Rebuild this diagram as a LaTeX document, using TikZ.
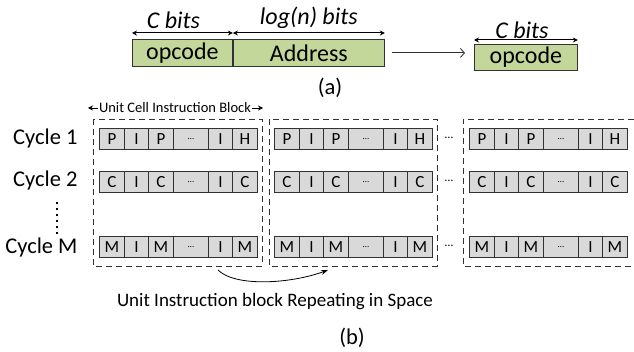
\documentclass[tikz,border=0pt]{standalone}
\usepackage{fontspec}
\setmainfont{Carlito}
\usetikzlibrary{arrows.meta,positioning}
\definecolor{opgreen}{RGB}{196,215,155}
\definecolor{cellgray}{RGB}{217,217,217}
\definecolor{edgegray}{RGB}{50,50,50}

\begin{document}
\begin{tikzpicture}[x=1pt,y=-1pt,
    field/.style={draw=edgegray,fill=opgreen,line width=0.9pt,minimum height=27pt,
                  inner sep=0pt,font=\fontsize{24}{26}\selectfont},
    dimarrow/.style={{Stealth[length=5pt,width=5pt]}-{Stealth[length=5pt,width=5pt]},line width=1pt},
    bits/.style={font=\fontsize{24}{26}\selectfont\itshape,inner sep=0pt},
    cell/.style={draw=edgegray,fill=cellgray,line width=0.8pt,minimum height=21pt,
                 inner sep=0pt,anchor=north west,font=\fontsize{17}{19}\selectfont},
    blockbox/.style={dash pattern=on 6pt off 4pt,line width=0.8pt,draw=edgegray},
    big/.style={font=\fontsize{22.5}{26}\selectfont}]
  \useasboundingbox (0,0) rectangle (634,352);

  % (a) instruction format: opcode + address -> opcode only
  \node[field,minimum width=100pt,anchor=north west] (opA) at (132,39) {opcode};
  \node[field,minimum width=151pt,anchor=west] (addr) at (opA.east) {Address};
  \node[field,minimum width=103pt,minimum height=26pt,anchor=north west] (opB) at (474,44) {opcode};
  \draw[dimarrow] ([yshift=6pt]opA.north west) -- ([yshift=6pt]opA.north east)
    node[midway,above=4pt,xshift=-9pt,bits]{C bits};
  \draw[dimarrow] ([yshift=6pt]addr.north west) -- ([yshift=6pt]addr.north east)
    node[midway,above=4pt,bits]{log(n) bits};
  \draw[dimarrow] ([yshift=4pt]opB.north west) -- ([yshift=4pt]opB.north east)
    node[midway,above=1pt,xshift=-4pt,bits]{C bits};
  \draw[-{Straight Barb[length=4pt,width=9pt]},edgegray,line width=0.9pt,
        shorten <=7pt,shorten >=9pt] (addr.east) -- (addr.east -| opB.west);
  \node[big] (lblA) at (330,88) {(a)};

  % (b) instruction blocks repeated over cycles and space
  \draw[blockbox] (93,119) rectangle (262,266);
  \draw[blockbox] (269,119) rectangle (437,266);
  \draw[blockbox] (634,119) -- (463,119) -- (463,266) -- (634,266);

  \node[font=\fontsize{14.5}{16}\selectfont,inner sep=1pt] (span) at (175,108)
    {Unit Cell Instruction Block};
  \coordinate (spanL) at (88,108);
  \coordinate (spanR) at (263,108);
  \draw[-{Stealth[length=5pt,width=5pt]},line width=0.8pt] (span.west) -- (spanL);
  \draw[-{Stealth[length=5pt,width=5pt]},line width=0.8pt] (span.east) -- (spanR);

  \node[big,anchor=east] (cyc1) at (81,139) {Cycle 1};
  \node[big,anchor=east] (cyc2) at (81,181) {Cycle 2};
  \node[big,anchor=east] (cycM) at (81,248) {Cycle M};
  \coordinate (dotTop) at (57,202);
  \coordinate (dotBot) at (57,237);
  \draw[line width=2.5pt,dash pattern=on 2.5pt off 3.5pt] (dotTop) -- (dotBot);

  \foreach \bx [count=\b] in {99,274,469} {
    \foreach \ry/\ca/\cz [count=\r] in {128/P/H,171/C/C,236/M/M} {
      \foreach \cx/\cw/\ct [count=\k] in {0/25/\ca,25/24/I,49/25/\ca,74/35/{\small\dots},109/24/I,133/25/\cz} {
        \node[cell,minimum width=\cw pt] (c\b-\r-\k) at (\bx+\cx,\ry) {\ct};
      }
    }
  }
  \foreach \ry [count=\r] in {138,181,246}
    \node[font=\fontsize{12}{14}\selectfont] (gap\r) at (449,\ry) {\dots};

  \coordinate (repS) at (218,270);
  \coordinate (repE) at (328,270);
  \draw[-{Stealth[length=7pt,width=5pt]},line width=0.8pt]
    (repS) .. controls (235,287) and (290,284) .. (repE);
  \node[font=\fontsize{19}{22}\selectfont] (repText) at (275,302)
    {Unit Instruction block Repeating in Space};
  \node[big] (lblB) at (352,338) {(b)};
\end{tikzpicture}
\end{document}
